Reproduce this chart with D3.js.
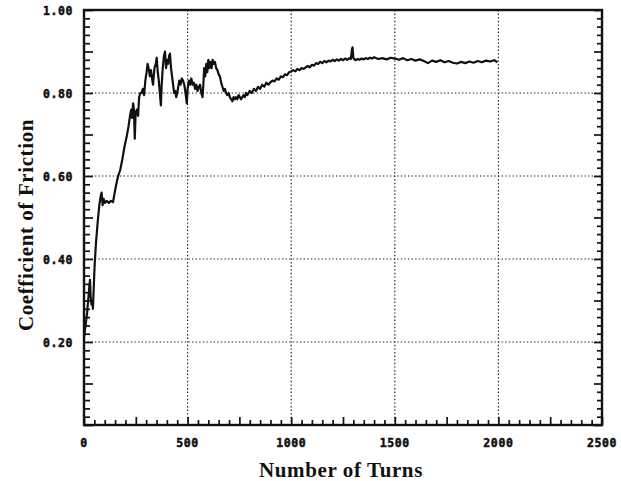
<!DOCTYPE html>
<html>
<head>
<meta charset="utf-8">
<script src="https://cdn.jsdelivr.net/npm/d3@7"></script>
<style>
  html, body { margin: 0; padding: 0; background: #fff; }
  svg { display: block; }
  .tick-label { font-family: "DejaVu Sans Mono", monospace; font-weight: bold; font-size: 11.5px; letter-spacing: 0.6px; fill: #111; stroke: #111; stroke-width: 0.5px; }
  .title { font-family: "Liberation Serif", "Times New Roman", serif; font-weight: bold; font-size: 21px; letter-spacing: 0.6px; fill: #111; }
</style>
</head>
<body>
<svg id="chart" width="621" height="481"></svg>
<script>
// Friction test record: coefficient of friction against number of turns
const turns = [
  0, 5, 10, 15, 20, 25, 29, 32, 36, 40, 43, 47, 50, 53, 58, 63, 68, 74, 80, 85,
  90, 95, 100, 110, 120, 130, 140, 150, 160, 165, 175, 185, 195, 206, 215, 222, 228, 232, 237, 241,
  245, 249, 255, 261, 266, 272, 278, 284, 290, 296, 302, 307, 312, 318, 323, 327, 333, 340, 346, 351,
  356, 361, 366, 371, 375, 380, 386, 391, 396, 401, 406, 411, 415, 420, 425, 430, 435, 440, 445, 450,
  455, 460, 466, 472, 478, 484, 490, 496, 500, 506, 512, 518, 524, 530, 536, 542, 548, 554, 560, 566,
  572, 576, 580, 585, 590, 595, 600, 605, 610, 616, 621, 626, 632, 638, 644, 650, 656, 662, 668, 674,
  680, 686, 692, 698, 704, 710, 716, 722, 728, 734, 740, 746, 752, 758, 764, 770, 776, 782, 788, 794,
  800, 810, 820, 830, 840, 850, 860, 870, 880, 890, 900, 910, 920, 930, 940, 950, 960, 970, 980, 990,
  1000, 1010, 1020, 1030, 1040, 1050, 1060, 1070, 1080, 1090, 1100, 1110, 1120, 1130, 1140, 1150, 1160, 1170, 1180, 1190,
  1200, 1210, 1220, 1230, 1240, 1250, 1260, 1270, 1280, 1288, 1293, 1296, 1300, 1310, 1320, 1330, 1340, 1350, 1360, 1370,
  1380, 1390, 1400, 1420, 1440, 1460, 1480, 1500, 1520, 1540, 1560, 1580, 1600, 1620, 1640, 1660, 1680, 1700, 1720, 1740,
  1760, 1780, 1800, 1820, 1840, 1860, 1880, 1900, 1920, 1940, 1960, 1980, 1990, 1995
];
const friction = [
  0.21, 0.23, 0.25, 0.27, 0.30, 0.33, 0.35, 0.31, 0.29, 0.30, 0.28, 0.33, 0.37, 0.40, 0.44, 0.47, 0.50, 0.53, 0.55, 0.56,
  0.53, 0.545, 0.535, 0.54, 0.535, 0.54, 0.537, 0.565, 0.59, 0.60, 0.615, 0.64, 0.67, 0.695, 0.72, 0.745, 0.76, 0.74, 0.775, 0.76,
  0.69, 0.75, 0.76, 0.745, 0.79, 0.80, 0.80, 0.81, 0.795, 0.83, 0.85, 0.87, 0.86, 0.84, 0.855, 0.84, 0.82, 0.86, 0.87, 0.885,
  0.85, 0.83, 0.80, 0.77, 0.82, 0.86, 0.89, 0.90, 0.86, 0.88, 0.87, 0.89, 0.895, 0.86, 0.84, 0.82, 0.80, 0.805, 0.79, 0.80,
  0.815, 0.83, 0.82, 0.835, 0.83, 0.82, 0.80, 0.775, 0.81, 0.83, 0.82, 0.835, 0.82, 0.825, 0.81, 0.82, 0.805, 0.815, 0.82, 0.80,
  0.79, 0.82, 0.86, 0.84, 0.87, 0.85, 0.88, 0.86, 0.875, 0.86, 0.88, 0.87, 0.875, 0.86, 0.855, 0.845, 0.84, 0.825, 0.815, 0.805,
  0.81, 0.80, 0.795, 0.80, 0.79, 0.785, 0.78, 0.79, 0.785, 0.79, 0.785, 0.795, 0.79, 0.785, 0.79, 0.795, 0.79, 0.80, 0.795, 0.80,
  0.805, 0.80, 0.81, 0.805, 0.815, 0.81, 0.82, 0.815, 0.825, 0.82, 0.826, 0.83, 0.828, 0.835, 0.832, 0.84, 0.838, 0.845, 0.843, 0.85,
  0.852, 0.855, 0.852, 0.858, 0.855, 0.86, 0.858, 0.862, 0.865, 0.862, 0.868, 0.866, 0.872, 0.87, 0.875, 0.872, 0.877, 0.874, 0.878, 0.876,
  0.88, 0.877, 0.881, 0.878, 0.882, 0.879, 0.883, 0.88, 0.884, 0.882, 0.905, 0.91, 0.884, 0.879, 0.882, 0.88, 0.883, 0.881, 0.884, 0.882,
  0.885, 0.883, 0.886, 0.882, 0.884, 0.881, 0.885, 0.883, 0.88, 0.884, 0.879, 0.882, 0.878, 0.881, 0.877, 0.872, 0.878, 0.875, 0.879, 0.874,
  0.877, 0.873, 0.871, 0.875, 0.872, 0.876, 0.873, 0.877, 0.874, 0.878, 0.876, 0.879, 0.876, 0.874
];

const xTickValues = [0, 500, 1000, 1500, 2000, 2500];
const xTickLabels = ["0", "500", "1000", "1500", "2000", "2500"];
const yTickValues = [0.2, 0.4, 0.6, 0.8, 1.0];
const yTickLabels = ["0.20", "0.40", "0.60", "0.80", "1.00"];
const xGridValues = [500, 1000, 1500, 2000];
const yGridValues = [0.2, 0.4, 0.6, 0.8];

const svg = d3.select("#chart");
const plotLeft = 84, plotRight = 602, plotTop = 10, plotBottom = 425;

const x = d3.scaleLinear().domain([0, 2500]).range([plotLeft, plotRight]);
const y = d3.scaleLinear().domain([0, 1]).range([plotBottom, plotTop]);

// dotted grid
const grid = svg.append("g").attr("stroke", "#222").attr("stroke-width", 1.2)
  .attr("stroke-dasharray", "1.4,2.2");
grid.selectAll("line.gx").data(xGridValues).join("line").attr("class", "gx")
  .attr("x1", d => x(d)).attr("x2", d => x(d)).attr("y1", plotTop).attr("y2", plotBottom);
grid.selectAll("line.gy").data(yGridValues).join("line").attr("class", "gy")
  .attr("x1", plotLeft).attr("x2", plotRight).attr("y1", d => y(d)).attr("y2", d => y(d));

// inward ticks: minor every 50 turns / 0.02, longer every 250 turns / 0.1
const xMinor = d3.range(0, 2501, 50).filter(v => v % 250 !== 0);
const xMajor = d3.range(0, 2501, 250);
const yMinor = d3.range(0, 51).filter(i => i % 5 !== 0).map(i => i / 50);
const yMajor = d3.range(0, 11).map(i => i / 10);

function tickAxis(axis, g) {
  g.call(axis);
  g.select(".domain").remove();
  g.selectAll(".tick line").attr("stroke", "#111").attr("stroke-width", 1.7);
  g.selectAll(".tick text").remove();
}

tickAxis(d3.axisBottom(x).tickValues(xMinor).tickSize(-5), svg.append("g").attr("transform", `translate(0,${plotBottom})`));
tickAxis(d3.axisBottom(x).tickValues(xMajor).tickSize(-8), svg.append("g").attr("transform", `translate(0,${plotBottom})`));
tickAxis(d3.axisLeft(y).tickValues(yMinor).tickSize(-6), svg.append("g").attr("transform", `translate(${plotLeft},0)`));
tickAxis(d3.axisLeft(y).tickValues(yMajor).tickSize(-9), svg.append("g").attr("transform", `translate(${plotLeft},0)`));
tickAxis(d3.axisRight(y).tickValues(yMinor).tickSize(-5), svg.append("g").attr("transform", `translate(${plotRight},0)`));
tickAxis(d3.axisRight(y).tickValues(yMajor).tickSize(-8), svg.append("g").attr("transform", `translate(${plotRight},0)`));

// frame
svg.append("rect")
  .attr("x", plotLeft).attr("y", plotTop).attr("width", plotRight - plotLeft).attr("height", plotBottom - plotTop)
  .attr("fill", "none").attr("stroke", "#111").attr("stroke-width", 2.4);

// tick labels
svg.append("g").selectAll("text").data(xTickValues).join("text")
  .attr("class", "tick-label")
  .attr("x", d => x(d)).attr("y", plotBottom + 22)
  .attr("text-anchor", "middle")
  .text((d, i) => xTickLabels[i]);

svg.append("g").selectAll("text").data(yTickValues).join("text")
  .attr("class", "tick-label")
  .attr("x", plotLeft - 11).attr("y", d => y(d) + 5)
  .attr("text-anchor", "end")
  .text((d, i) => yTickLabels[i]);

// data line
const line = d3.line().x((d, i) => x(turns[i])).y(d => y(d));
svg.append("path")
  .datum(friction)
  .attr("d", line)
  .attr("fill", "none")
  .attr("stroke", "#111")
  .attr("stroke-width", 2.2)
  .attr("stroke-linejoin", "round");

// axis titles
svg.append("text").attr("class", "title")
  .attr("x", 341).attr("y", 477).attr("text-anchor", "middle")
  .text("Number of Turns");

svg.append("text").attr("class", "title")
  .attr("transform", "translate(33,225) rotate(-90)")
  .attr("text-anchor", "middle")
  .text("Coefficient of Friction");
</script>
</body>
</html>
